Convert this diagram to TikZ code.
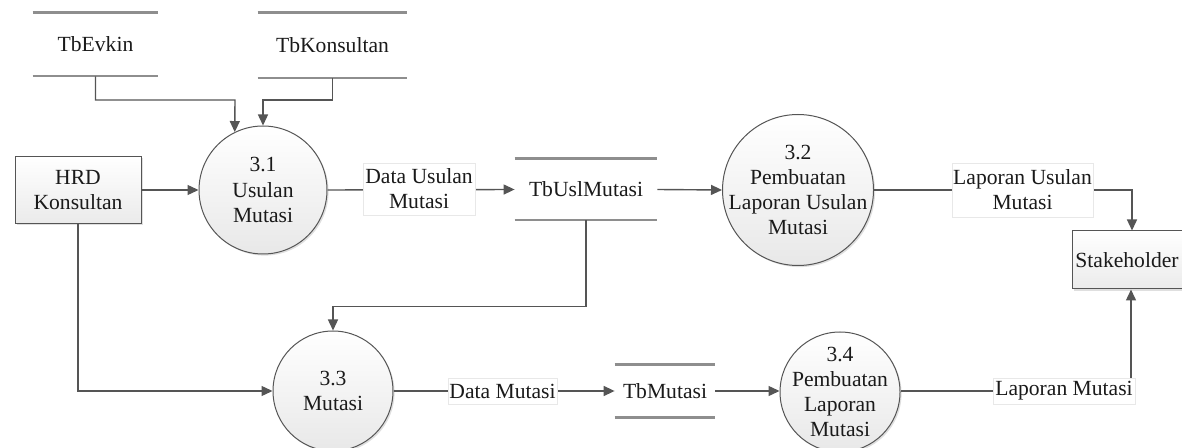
\documentclass[tikz,border=0pt]{standalone}
\usepackage{fontspec}
\setmainfont{Liberation Serif}
\usetikzlibrary{arrows.meta,shadows,calc}
\definecolor{lnc}{HTML}{555555}
\definecolor{stc}{HTML}{8E8E8E}
\definecolor{txc}{HTML}{1A1A1A}
\begin{document}
\begin{tikzpicture}[x=0.5pt,y=-0.5pt,
  every node/.style={font=\fontsize{10.8}{12.6}\selectfont, text=txc, align=center, inner sep=0pt},
  proc/.style={circle, draw=lnc, line width=0.5pt, top color=white, bottom color=gray!18,
    drop shadow={opacity=0.25, shadow xshift=0.8pt, shadow yshift=-0.8pt}, minimum size=#1},
  ent/.style={rectangle, draw=lnc, line width=0.5pt, top color=white, bottom color=gray!16,
    drop shadow={opacity=0.25, shadow xshift=0.8pt, shadow yshift=-0.8pt}},
  store/.style={rectangle},
  storeline/.style={stc, line width=1.1pt},
  flow/.style={draw=lnc, line width=0.7pt, -{Triangle[length=5.5pt,width=5pt]}},
  lbl/.style={fill=white, draw=gray!18, line width=0.3pt}]
\useasboundingbox (0,0) rectangle (1182,448);
% data stores
\node[store, minimum width=62.5pt, minimum height=31.5pt] (evkin) at (95.5,44.5) {TbEvkin};
\node[store, minimum width=74.5pt, minimum height=32.5pt] (kons) at (332.5,45.5) {TbKonsultan};
\node[store, minimum width=71pt, minimum height=30.5pt] (usl) at (586,189.5) {TbUslMutasi};
\node[store, minimum width=50pt, minimum height=26pt] (mst) at (665,391) {TbMutasi};
\foreach \n in {evkin,kons,usl,mst}
  \draw[storeline] (\n.north west) -- (\n.north east) (\n.south west) -- (\n.south east);
% entities
\node[ent, minimum width=63pt, minimum height=33.5pt] (hrd) at (78,190) {HRD\\Konsultan};
\node[ent, minimum width=55pt, minimum height=29pt] (stake) at (1127,260) {Stakeholder};
% processes
\node[proc=64pt, label={center:{3.1\\Usulan\\Mutasi}}] (p31) at (263,190) {};
\node[proc=75.5pt, label={center:{3.2\\Pembuatan\\Laporan Usulan\\Mutasi}}] (p32) at (798,190) {};
\node[proc=60pt, label={center:{3.3\\Mutasi}}] (p33) at (333,391) {};
\node[proc=60pt, label={center:{3.4\\Pembuatan\\Laporan\\Mutasi}}] (p34) at (840,392) {};
% flows
\coordinate (j1) at (235,100);
\draw[flow] (evkin.south) |- (j1) -- (p31.116);
\draw[flow] (kons.south) |- (p31.north |- j1) -- (p31.north);
\draw[flow] (hrd.east) -- (p31.west);
\draw[flow] (p31.east) -- (usl.west);
\draw[flow] (usl.east) -- (p32.west);
\coordinate (c2) at (1132,190);
\draw[flow] (p32.east) -- (c2) -- (c2 |- stake.north);
\coordinate (c4) at (1131,391);
\draw[flow] (p34.east |- c4) -- (c4) -- (c4 |- stake.south);
\draw[flow] (hrd.south) |- (p33.west);
\draw[flow] (usl.south) |- ($(p33.north)+(0,-24)$) -- (p33.north);
\draw[flow] (p33.east) -- (mst.west);
\draw[flow] (mst.east) -- (p34.west |- mst.east);
% flow labels
\node[lbl, minimum width=56pt, minimum height=26pt] (l1) at (419,189) {Data Usulan\\Mutasi};
\node[lbl, minimum width=70.5pt, minimum height=27pt] (l2) at (1022.5,190) {Laporan Usulan\\Mutasi};
\node[lbl, minimum width=54.5pt, minimum height=13pt] (l3) at (502.5,391) {Data Mutasi};
\node[lbl, minimum width=71pt, minimum height=13pt] (l4) at (1064,391) {Laporan Mutasi};
\end{tikzpicture}
\end{document}
